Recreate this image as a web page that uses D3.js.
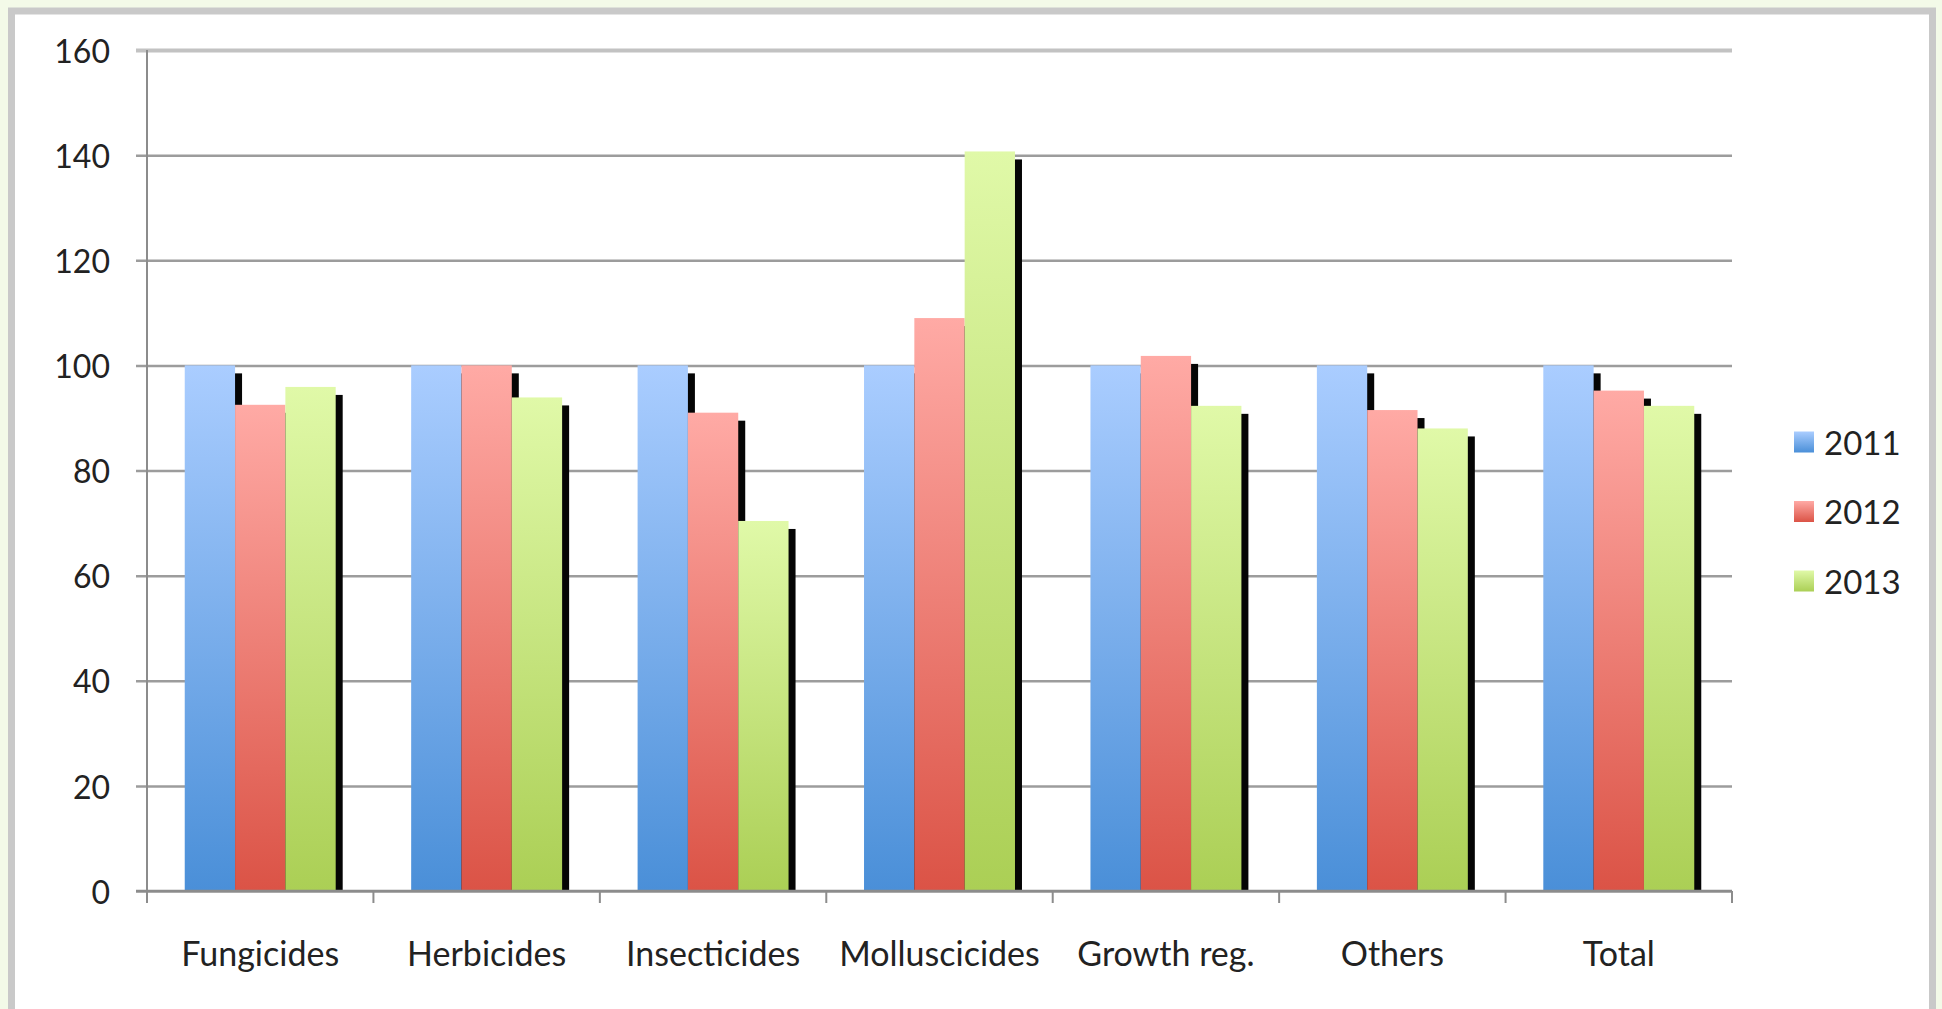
<!DOCTYPE html>
<html>
<head>
<meta charset="utf-8">
<script src="https://cdn.jsdelivr.net/npm/d3@7"></script>
<style>
  html, body { margin: 0; padding: 0; background: #f3fae8; }
  svg { display: block; }
  text { font-family: Lato, "Open Sans", sans-serif; fill: #222; }
</style>
</head>
<body>
<svg id="chart" width="1942" height="1009"></svg>
<script>
// Pesticide sales index by category (2011 = 100)
const categories = ["Fungicides", "Herbicides", "Insecticides", "Molluscicides", "Growth reg.", "Others", "Total"];
const years = ["2011", "2012", "2013"];
const values2011 = [100, 100, 100, 100, 100, 100, 100];
const values2012 = [92.5, 100, 91, 109, 101.8, 91.5, 95.2];
const values2013 = [95.9, 93.9, 70.4, 140.7, 92.3, 88, 92.3];
const yTicks = [0, 20, 40, 60, 80, 100, 120, 140, 160];

const seriesValues = [values2011, values2012, values2013];
const palette = {
  "2011": { top: "#aacdff", bottom: "#4a8fd8" },
  "2012": { top: "#ffaaa5", bottom: "#db5346" },
  "2013": { top: "#e0f9a8", bottom: "#abcf55" }
};

const svg = d3.select("#chart");
const W = 1942, H = 1009;

// outer frame
svg.append("rect").attr("x", 0).attr("y", 0).attr("width", W).attr("height", H).attr("fill", "#f3fae8");
svg.append("rect")
  .attr("x", 11.5).attr("y", 11).attr("width", 1921).attr("height", H + 20)
  .attr("fill", "#ffffff").attr("stroke", "#c9c9c9").attr("stroke-width", 7);

const plot = { left: 147, right: 1732, top: 50, bottom: 891 };

const x = d3.scaleBand().domain(categories).range([plot.left, plot.right]).paddingInner(0).paddingOuter(0);
const x1 = d3.scaleBand().domain(years).range([0, x.bandwidth()]).paddingInner(0).paddingOuter(0.75);
const y = d3.scaleLinear().domain([0, 160]).range([plot.bottom, plot.top]);

// gradients, one per series
const defs = svg.append("defs");
years.forEach(yr => {
  const g = defs.append("linearGradient").attr("id", "grad" + yr)
    .attr("x1", 0).attr("y1", 0).attr("x2", 0).attr("y2", 1);
  g.append("stop").attr("offset", "0%").attr("stop-color", palette[yr].top);
  g.append("stop").attr("offset", "100%").attr("stop-color", palette[yr].bottom);
});
defs.append("clipPath").attr("id", "plotClip")
  .append("rect").attr("x", plot.left).attr("y", 0).attr("width", W).attr("height", plot.bottom);

// y axis with gridlines
const tickLen = 11;
const yAxis = d3.axisLeft(y).tickValues(yTicks).tickSizeInner(-(plot.right - plot.left)).tickSizeOuter(0).tickPadding(0);
const yG = svg.append("g").attr("transform", `translate(${plot.left},0)`).call(yAxis);
yG.select(".domain").remove();
yG.selectAll(".tick line")
  .attr("x1", -tickLen).attr("x2", plot.right - plot.left)
  .attr("stroke", d => d === 160 ? "#c2c2c2" : "#9c9c9c")
  .attr("stroke-width", d => d === 160 ? 4 : 2.5);
yG.selectAll(".tick text")
  .attr("x", -37).attr("dy", "0.38em")
  .style("font-size", "32px").attr("fill", "#222");

// series bars with drop shadow, drawn category by category
const barsG = svg.append("g").attr("clip-path", "url(#plotClip)");
const shadowDx = 7, shadowDy = 8;
categories.forEach((cat, ci) => {
  const g = barsG.append("g").attr("transform", `translate(${x(cat)},0)`);
  years.forEach((yr, si) => {
    const v = seriesValues[si][ci];
    g.append("rect")
      .attr("x", x1(yr) + shadowDx).attr("y", y(v) + shadowDy)
      .attr("width", x1.bandwidth()).attr("height", y(0) - y(v))
      .attr("fill", "#050505");
    g.append("rect")
      .attr("x", x1(yr)).attr("y", y(v))
      .attr("width", x1.bandwidth()).attr("height", y(0) - y(v))
      .attr("fill", `url(#grad${yr})`);
  });
});

// y axis line
svg.append("line")
  .attr("x1", plot.left).attr("x2", plot.left)
  .attr("y1", y(160)).attr("y2", y(0))
  .attr("stroke", "#8c8c8c").attr("stroke-width", 2);

// x axis
const xAxis = d3.axisBottom(x).tickSize(0).tickPadding(51);
const xG = svg.append("g").attr("transform", `translate(0,${plot.bottom})`).call(xAxis);
xG.select(".domain").remove();
xG.selectAll(".tick text").style("font-size", "34px").attr("fill", "#222");
xG.append("line")
  .attr("x1", plot.left - tickLen).attr("x2", plot.right)
  .attr("y1", 0).attr("y2", 0)
  .attr("stroke", "#8c8c8c").attr("stroke-width", 2.5);
const boundaries = categories.map(c => x(c)).concat([plot.right]);
xG.selectAll(".sep").data(boundaries).join("line").attr("class", "sep")
  .attr("x1", d => d).attr("x2", d => d)
  .attr("y1", 0).attr("y2", 12)
  .attr("stroke", "#8c8c8c").attr("stroke-width", 2);

// legend
const legend = svg.append("g").attr("transform", "translate(1794,442)");
years.forEach((yr, i) => {
  const row = legend.append("g").attr("transform", `translate(0,${i * 69.5})`);
  row.append("rect").attr("x", 0).attr("y", -10.5).attr("width", 20).attr("height", 21)
    .attr("fill", `url(#grad${yr})`);
  row.append("text").attr("x", 30).attr("y", 0).attr("dy", "0.38em")
    .style("font-size", "33px").text(yr);
});
</script>
</body>
</html>
